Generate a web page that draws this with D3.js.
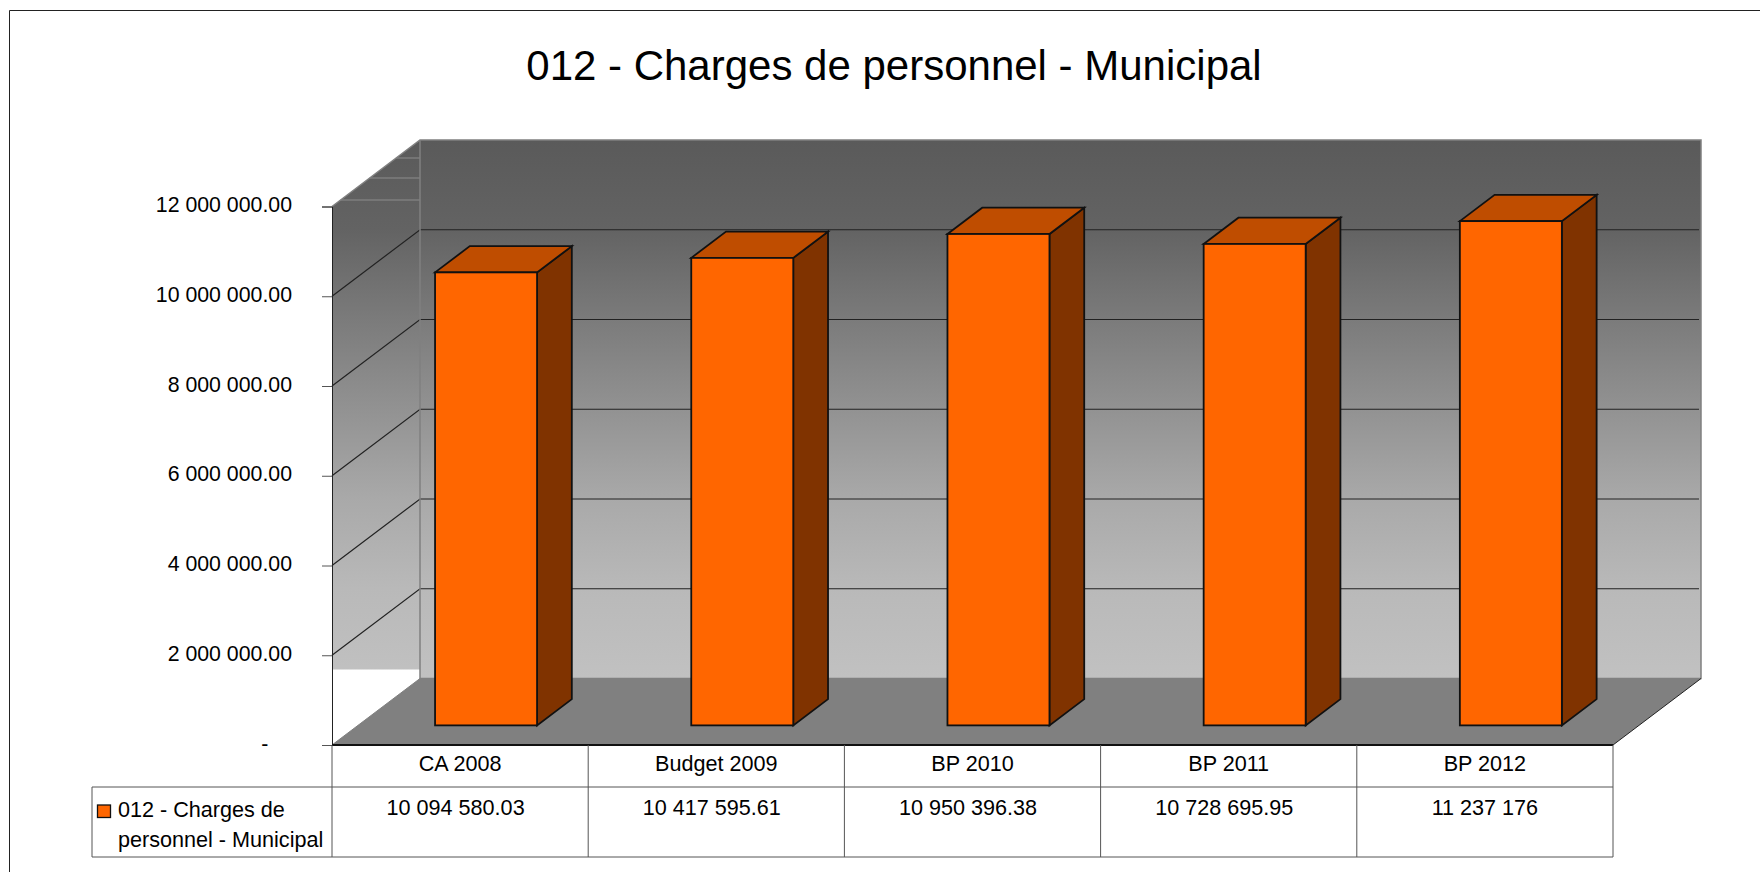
<!DOCTYPE html>
<html>
<head>
<meta charset="utf-8">
<script src="https://cdn.jsdelivr.net/npm/d3@7"></script>
<style>
    html, body { margin: 0; padding: 0; background: #fff; overflow: hidden; }
    svg { display: block; }
    text { font-family: "Liberation Sans", Arial, sans-serif; fill: #000; }
</style>
</head>
<body>
<script>
// Data {{{1
const title = "012 - Charges de personnel - Municipal";
const categories = ["CA 2008", "Budget 2009", "BP 2010", "BP 2011", "BP 2012"];
const values = [10094580.03, 10417595.61, 10950396.38, 10728695.95, 11237176];
const valueLabels = ["10 094 580.03", "10 417 595.61", "10 950 396.38", "10 728 695.95", "11 237 176"];
const yTicks = [0, 2000000, 4000000, 6000000, 8000000, 10000000, 12000000];
const yTickLabels = ["-\u00a0\u00a0\u00a0\u00a0", "2 000 000.00", "4 000 000.00", "6 000 000.00", "8 000 000.00", "10 000 000.00", "12 000 000.00"];
const legendLines = ["012 - Charges de", "personnel - Municipal"];
const wallStops = ["#5a5a5a", "#636363", "#7b7b7b", "#929292", "#a9a9a9", "#b9b9b9", "#c1c1c1"];

// Main {{{1
const width = 1760, height = 872;
const left = 332, right = 1613, floorY = 745, topY = 206.5;
const depthX = 88, depthY = 66.5;
const barFrontDepth = 0.295, barBackDepth = 0.69;
const rowY = [745, 787, 857];
const tableLeft = 92;

const x = d3.scaleBand().domain(categories).range([left, right]).paddingInner(0).paddingOuter(0);
const y = d3.scaleLinear().domain([0, 12000000]).range([floorY, topY]);

const svg = d3.select("body").append("svg")
    .attr("width", width)
    .attr("height", height)
    .attr("viewBox", [0, 0, width, height]);

createGradient(svg);
drawFrame(svg);
drawTitle(svg);
drawWalls(svg);
drawBars(svg);
drawAxis(svg);
drawTable(svg);

// Chart parts {{{1
function createGradient(svg) {
    svg.append("defs").append("linearGradient")
        .attr("id", "wall")
        .attr("gradientUnits", "userSpaceOnUse")
        .attr("x1", 0).attr("x2", 0)
        .attr("y1", topY - depthY).attr("y2", floorY - depthY)
        .selectAll("stop")
        .data(wallStops)
        .join("stop")
        .attr("offset", (d, i) => i / (wallStops.length - 1))
        .attr("stop-color", (d) => d);
}
function drawFrame(svg) {
    svg.append("path")
        .attr("d", `M9.5 ${height} V10.5 H${width}`)
        .attr("fill", "none")
        .attr("stroke", "#222")
        .attr("stroke-width", 1);
}
function drawTitle(svg) {
    svg.append("text")
        .attr("x", 894)
        .attr("y", 80)
        .attr("text-anchor", "middle")
        .style("font-size", "42px")
        .text(title);
}
function drawWalls(svg) {
    const backX = left + depthX, backRight = right + depthX;
    const backTop = y(12000000) - depthY, backFloor = floorY - depthY;
    const sideBottom = backFloor - 9;

    // side wall, its gradient stops short of the floor
    svg.append("path")
        .attr("d", `M${left} ${y(12000000)} L${backX} ${backTop} V${sideBottom} H${left} Z`)
        .attr("fill", "url(#wall)");
    // back wall
    svg.append("rect")
        .attr("x", backX)
        .attr("y", backTop)
        .attr("width", backRight - backX)
        .attr("height", backFloor - backTop)
        .attr("fill", "url(#wall)");
    // floor
    svg.append("path")
        .attr("d", `M${left} ${floorY} L${backX} ${backFloor} H${backRight} L${right} ${floorY} Z`)
        .attr("fill", "#808080");

    // light lines on the side wall above the top tick
    svg.selectAll(".sideTop")
        .data([158, 178, 200])
        .join("line")
        .classed("sideTop", true)
        .attr("x1", (d) => left + (y(12000000) - d) * depthX / depthY)
        .attr("x2", backX)
        .attr("y1", (d) => d)
        .attr("y2", (d) => d)
        .attr("stroke", "#8c8c8c");

    // grid lines on side and back walls
    const gridTicks = yTicks.filter((d) => d > 0 && d < 12000000);
    svg.selectAll(".grid")
        .data(gridTicks)
        .join("path")
        .classed("grid", true)
        .attr("d", (d) => `M${left} ${y(d)} L${backX} ${y(d) - depthY} H${backRight - 2}`)
        .attr("fill", "none")
        .attr("stroke", "#222")
        .attr("stroke-width", 1.2);

    // wall edges
    svg.append("path")
        .attr("d", `M${left} ${y(12000000)} L${backX} ${backTop} H${backRight} V${backFloor} H${backX} V${backTop}`)
        .attr("fill", "none")
        .attr("stroke", "#808080")
        .attr("stroke-width", 1.5);
    svg.append("line")
        .attr("x1", right).attr("y1", floorY)
        .attr("x2", backRight).attr("y2", backFloor)
        .attr("stroke", "#222");
    svg.append("line")
        .attr("x1", left).attr("y1", floorY)
        .attr("x2", backX).attr("y2", backFloor)
        .attr("stroke", "#808080");
}
function drawBars(svg) {
    const bars = svg.selectAll(".bar")
        .data(categories.map((c, i) => ({ category: c, value: values[i] })))
        .join("g")
        .classed("bar", true);
    const barWidth = 102;
    const fx = barFrontDepth * depthX, fy = barFrontDepth * depthY;
    const dx = (barBackDepth - barFrontDepth) * depthX, dy = (barBackDepth - barFrontDepth) * depthY;
    const x0 = (d) => x(d.category) + x.bandwidth() / 2 - barWidth / 2 + fx;
    const top = (d) => y(d.value) - fy;
    const bottom = floorY - fy;

    const style = (s) => s.attr("stroke", "#111").attr("stroke-width", 1.8).attr("stroke-linejoin", "miter");

    bars.append("path")
        .attr("d", (d) => `M${x0(d) + barWidth} ${top(d)} l${dx} ${-dy} V${bottom - dy} L${x0(d) + barWidth} ${bottom} Z`)
        .attr("fill", "#803300")
        .call(style);
    bars.append("path")
        .attr("d", (d) => `M${x0(d)} ${top(d)} l${dx} ${-dy} h${barWidth} l${-dx} ${dy} Z`)
        .attr("fill", "#bf4d00")
        .call(style);
    bars.append("rect")
        .attr("x", x0)
        .attr("y", top)
        .attr("width", barWidth)
        .attr("height", (d) => bottom - top(d))
        .attr("fill", "#ff6600")
        .call(style);
}
function drawAxis(svg) {
    const axis = d3.axisLeft(y)
        .tickValues(yTicks)
        .tickSize(10)
        .tickPadding(30)
        .tickFormat((d) => yTickLabels[yTicks.indexOf(d)]);
    const g = svg.append("g")
        .attr("transform", `translate(${left},0)`)
        .call(axis);
    g.select(".domain").attr("stroke", "#222");
    g.selectAll(".tick line").attr("stroke", "#555");
    g.selectAll(".tick text")
        .attr("dy", "0.24em")
        .style("font-size", "21.3px")
        .style("font-family", "'Liberation Sans', Arial, sans-serif")
        .attr("fill", "#000");
}
function drawTable(svg) {
    const lineColor = "#555";
    // heavy front floor edge
    svg.append("line")
        .attr("x1", left).attr("x2", right)
        .attr("y1", floorY).attr("y2", floorY)
        .attr("stroke", "#111").attr("stroke-width", 2);
    svg.append("path")
        .attr("d", `M${tableLeft} ${rowY[1]} H${right} V${floorY} M${tableLeft} ${rowY[1]} V${rowY[2]} H${right} V${rowY[1]}`)
        .attr("fill", "none")
        .attr("stroke", lineColor);
    svg.selectAll(".tableLine")
        .data(categories)
        .join("line")
        .classed("tableLine", true)
        .attr("x1", (d) => x(d))
        .attr("x2", (d) => x(d))
        .attr("y1", floorY)
        .attr("y2", rowY[2])
        .attr("stroke", lineColor);

    const center = (d) => x(d) + x.bandwidth() / 2;
    svg.selectAll(".categoryLabel")
        .data(categories)
        .join("text")
        .classed("categoryLabel", true)
        .attr("x", center)
        .attr("y", 771)
        .attr("text-anchor", "middle")
        .style("font-size", "21.6px")
        .text((d) => d);
    // labels with decimals sit a little left of the cell centre
    svg.selectAll(".valueLabel")
        .data(categories)
        .join("text")
        .classed("valueLabel", true)
        .attr("x", (d, i) => center(d) - (valueLabels[i].includes(".") ? 4.5 : 0))
        .attr("y", 815)
        .attr("text-anchor", "middle")
        .style("font-size", "21.6px")
        .text((d, i) => valueLabels[i]);

    // legend cell
    svg.append("rect")
        .attr("x", 97.5).attr("y", 805)
        .attr("width", 13).attr("height", 12.5)
        .attr("fill", "#ff6600")
        .attr("stroke", "#111")
        .attr("stroke-width", 1.3);
    svg.selectAll(".legendLine")
        .data(legendLines)
        .join("text")
        .classed("legendLine", true)
        .attr("x", 118)
        .attr("y", (d, i) => 817 + i * 30)
        .style("font-size", "21.6px")
        .text((d) => d);
}
</script>
</body>
</html>
